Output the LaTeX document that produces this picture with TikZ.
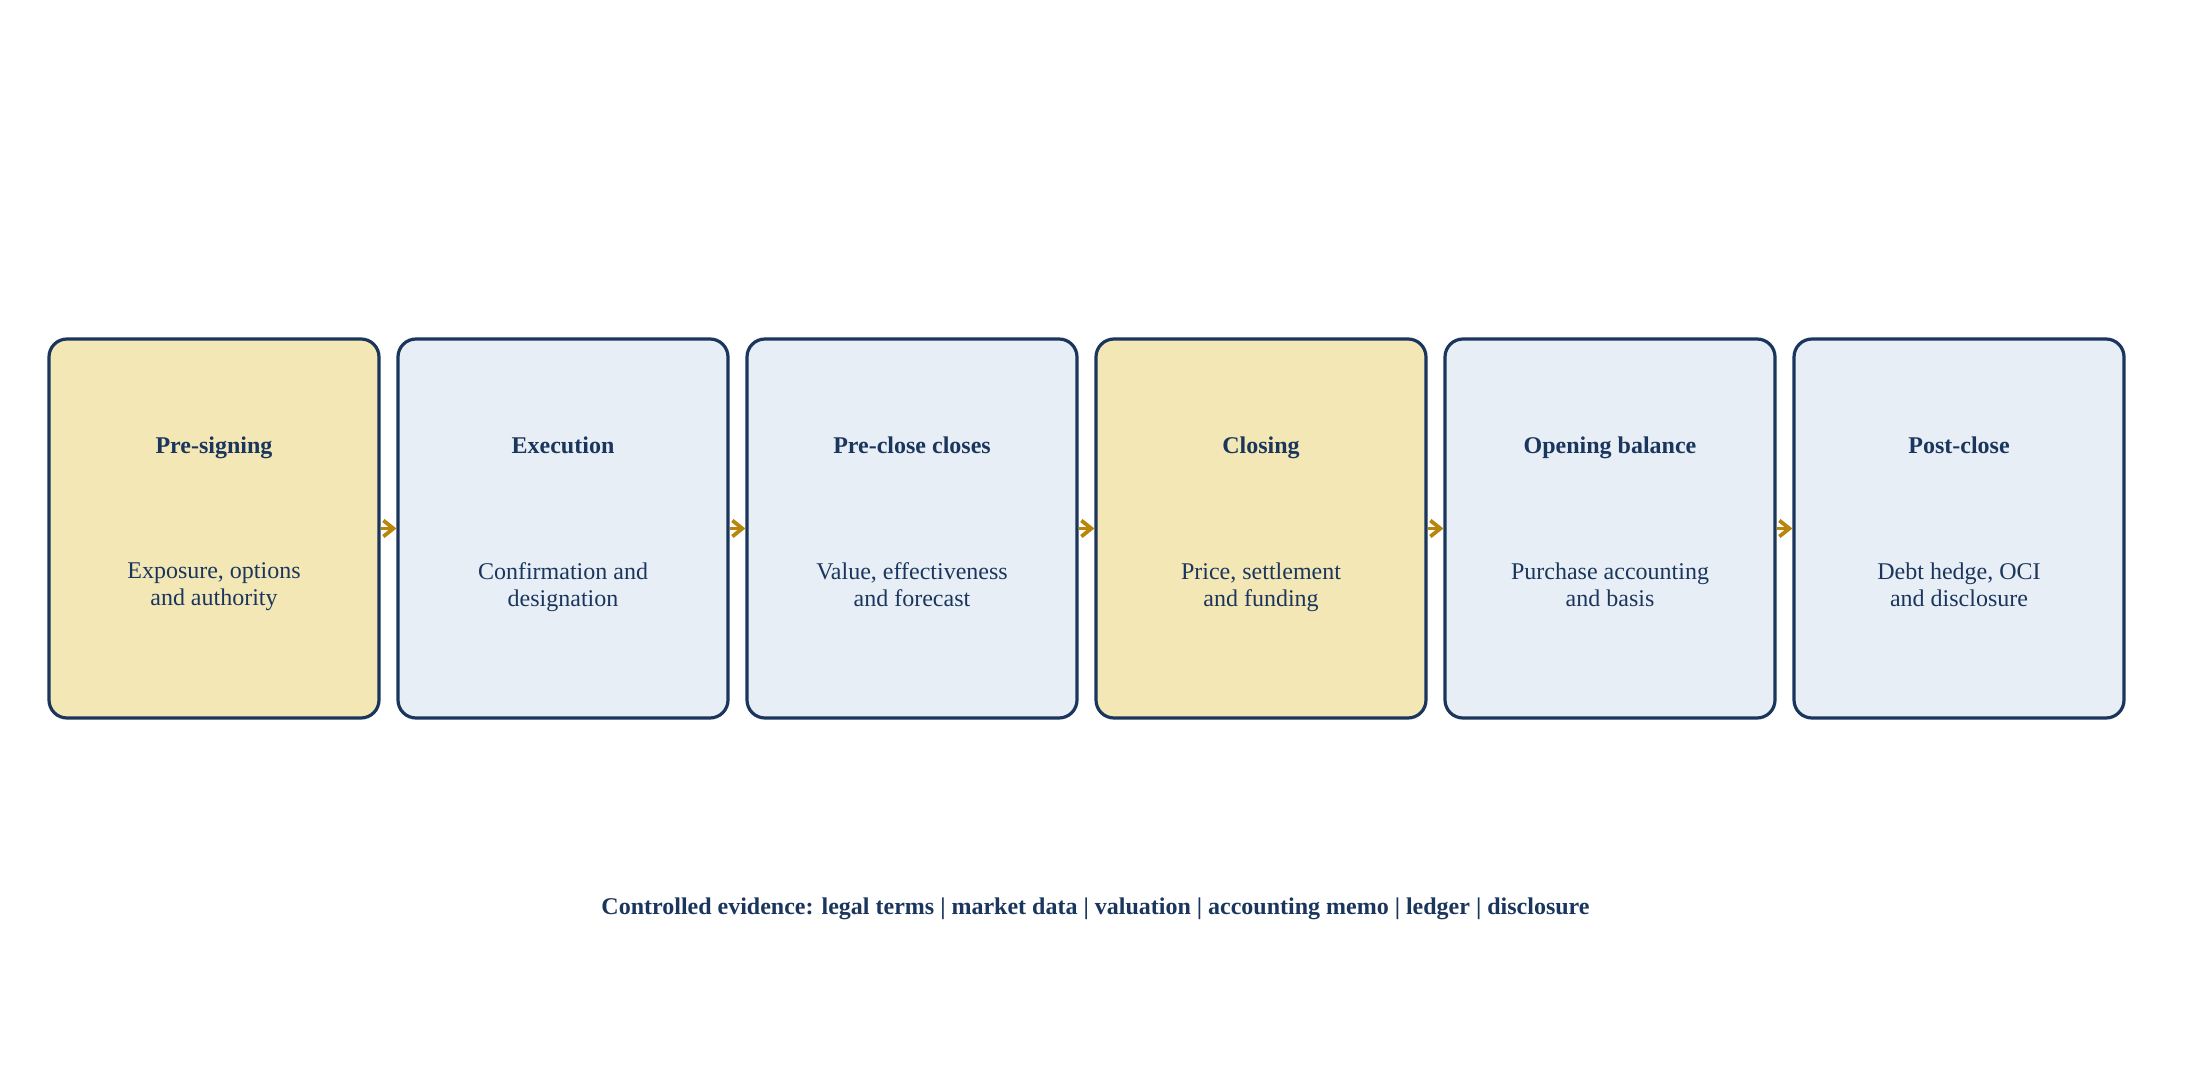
\documentclass[tikz,border=0pt]{standalone}
\usepackage{fontspec}
\setmainfont{Liberation Serif}
\usetikzlibrary{arrows.meta}

\definecolor{navy}{HTML}{1B365D}
\definecolor{sand}{HTML}{F3E7B6}
\definecolor{mist}{HTML}{E7EEF6}
\definecolor{gold}{HTML}{B8860B}

\tikzset{
  stage/.style={draw=navy, line width=1.6pt, rounded corners=9pt,
    minimum width=165pt, minimum height=189.5pt, inner sep=0pt},
  stagetitle/.style={text=navy, text height=0.7em, text depth=0.2em,
    font=\bfseries\fontsize{12}{13.5}\selectfont},
  stagebody/.style={text=navy, align=center, text depth=0.2em,
    font=\fontsize{12}{13.5}\selectfont},
  flow/.style={-{Straight Barb[length=5pt,width=8pt]}, gold, line width=1.9pt}
}

\begin{document}
\begin{tikzpicture}[x=0.5pt, y=-0.5pt]
    % Рамка
    \fill[white] (0,0) rectangle (2191,1069);
    \useasboundingbox (0,0) rectangle (2191,1069);

    % Этапы
    \foreach \i/\col/\title/\body in {
        1/sand/{Pre-signing}/{Exposure, options\\and authority},
        2/mist/{Execution}/{Confirmation and\\designation},
        3/mist/{Pre-close closes}/{Value, effectiveness\\and forecast},
        4/sand/{Closing}/{Price, settlement\\and funding},
        5/mist/{Opening balance}/{Purchase accounting\\and basis},
        6/mist/{Post-close}/{Debt hedge, OCI\\and disclosure}}
    {
        \pgfmathsetmacro{\cx}{214+(\i-1)*349}
        \node[stage, fill=\col] (s\i) at (\cx,528.5) {};
        \node[stagetitle] (t\i) at ([yshift=40pt]s\i.center) {\title};
        \node[stagebody] (b\i) at ([yshift=-29pt]s\i.center) {\body};
    }

    % Стрелки
    \foreach \i in {1,...,5}
    {
        \pgfmathtruncatemacro{\next}{\i+1}
        \draw[flow] (s\i.east) -- (s\next.west);
    }

    % Подпись
    \node[text=navy, font=\bfseries\fontsize{12}{13.5}\selectfont] (evidence) at (1095.5,909)
        {Controlled evidence: legal terms | market data | valuation | accounting memo | ledger | disclosure};
\end{tikzpicture}
\end{document}
